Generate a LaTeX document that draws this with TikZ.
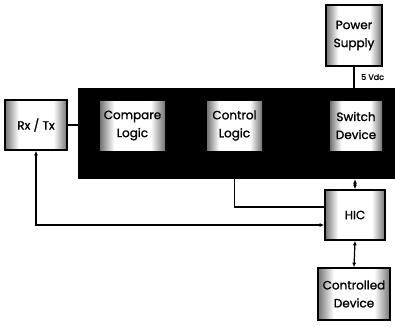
\documentclass[tikz,border=0pt]{standalone}
\usepackage{fontspec}
\setmainfont{Poppins}
\newfontfamily\boxfont{Poppins}[BoldFont=Poppins, BoldFeatures={FakeBold=1.3}]
\usetikzlibrary{arrows.meta}
\pgfdeclarehorizontalshading{edgeshade}{100bp}{color(0bp)=(black!55); color(25bp)=(black!55); color(31bp)=(black!25); color(36bp)=(white); color(64bp)=(white); color(69bp)=(black!25); color(75bp)=(black!55); color(100bp)=(black!55)}
\tikzset{
  blk/.style={shading=edgeshade, draw=black, line width=1.6pt, align=center, inner sep=0pt,
    font=\boxfont\bfseries\fontsize{12}{18}\selectfont},
  inblk/.style={shading=edgeshade, align=center, inner sep=0pt,
    font=\boxfont\bfseries\fontsize{12}{18}\selectfont},
  conn/.style={line width=1.2pt},
  tips/.style={{Latex[length=4.5pt,width=4pt]}-{Latex[length=4.5pt,width=4pt]}},
}
\begin{document}
\begin{tikzpicture}[x=1pt,y=-1pt]
\useasboundingbox (0,0) rectangle (395,326);
\node[fill=black, minimum width=317pt, minimum height=91pt, inner sep=0pt] (main) at (236.5,133.5) {};
\node[blk, minimum width=56pt, minimum height=61pt] (ps) at (354,35.5) {Power\\Supply};
\node[blk, minimum width=62pt, minimum height=50pt] (rx) at (36,125) {Rx / Tx};
\node[inblk, minimum width=65pt, minimum height=49pt] (cmp) at (132.5,125.5) {Compare\\Logic};
\node[inblk, minimum width=55pt, minimum height=49pt] (ctl) at (234.5,125.5) {Control\\Logic};
\node[inblk, minimum width=52pt, minimum height=49pt] (sw) at (356,125.5) {Switch\\Device};
\node[blk, minimum width=60pt, minimum height=50pt] (hic) at (355,215) {HIC};
\node[blk, minimum width=72pt, minimum height=52pt] (cd) at (354,294) {Controlled\\Device};
\node[font=\boxfont\bfseries\fontsize{8}{9}\selectfont, anchor=west, inner sep=0pt] (vdc) at (361,77) {5 Vdc};
\draw[conn] (ps.south) -- (ps.south |- main.north);
\draw[conn] (rx.east) -- (rx.east -| main.west);
\draw[conn, tips] (hic.north |- main.south) -- (hic.north);
\draw[conn] (ctl.south |- main.south) |- ([yshift=8pt]hic.west);
\draw[conn, tips] (rx.south) |- ([yshift=-10pt]hic.west);
\draw[conn, tips] (hic.south) -- (cd.north);
\end{tikzpicture}
\end{document}
